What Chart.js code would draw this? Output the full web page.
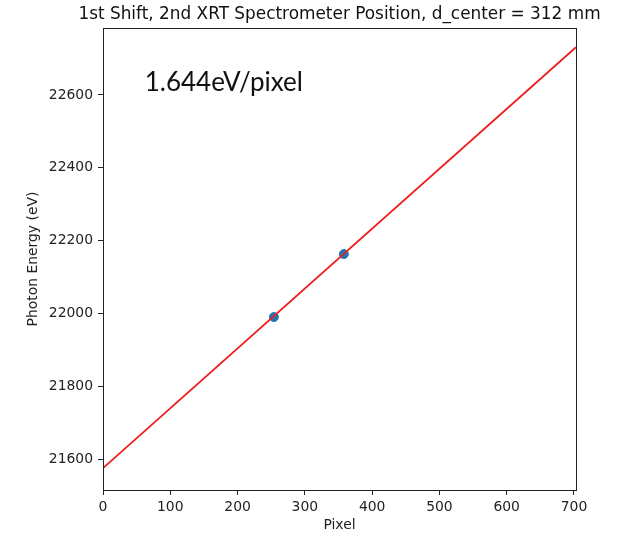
<!DOCTYPE html>
<html>
<head>
<meta charset="utf-8">
<script src="https://cdn.jsdelivr.net/npm/chart.js@4.4.1/dist/chart.umd.min.js"></script>
<style>
  html, body { margin: 0; padding: 0; background: #fff; }
  #wrap { width: 623px; height: 537px; }
</style>
</head>
<body>
<div id="wrap"><canvas id="myChart" width="623" height="537"></canvas></div>
<script>
// measured points (pixel, photon energy)
const pointX = [254, 358];
const pointY = [21990, 22163];

// linear fit endpoints across the axis range
const fitX = [0, 703];
const fitY = [21575, 22731];

// axis limits and ticks
const xLimits = [0, 703];
const yLimits = [21515, 22784];
const xTicks = [0, 100, 200, 300, 400, 500, 600, 700];
const yTicks = [21600, 21800, 22000, 22200, 22400, 22600];

const titleText = "1st Shift, 2nd XRT Spectrometer Position, d_center = 312 mm";
const noteText = "1.644eV/pixel";

const font = "'DejaVu Sans', sans-serif";

// title over the plot, box around it and the text note
const boxPlugin = {
  id: "boxPlugin",
  afterDraw(chart) {
    const { ctx, chartArea, scales } = chart;
    ctx.save();
    ctx.strokeStyle = "#222";
    ctx.lineWidth = 1;
    ctx.strokeRect(chartArea.left + 0.5, chartArea.top + 0.5,
      chartArea.right - chartArea.left, chartArea.bottom - chartArea.top);

    ctx.fillStyle = "#111";
    ctx.font = "16.9px " + font;
    ctx.textAlign = "center";
    ctx.textBaseline = "middle";
    ctx.fillText(titleText, (chartArea.left + chartArea.right) / 2, 15);

    ctx.textAlign = "left";
    ctx.font = "26px Lato, 'Open Sans', sans-serif";
    ctx.fillText(noteText, scales.x.getPixelForValue(62), scales.y.getPixelForValue(22633));
    ctx.restore();
  },
};

const ctx = document.getElementById("myChart");

new Chart(ctx, {
  data: {
    datasets: [
      {
        type: "scatter",
        data: pointX.map((x, i) => ({ x: x, y: pointY[i] })),
        backgroundColor: "#1f77b4",
        borderColor: "#1f77b4",
        pointRadius: 4.5,
        order: 2,
      },
      {
        type: "line",
        data: fitX.map((x, i) => ({ x: x, y: fitY[i] })),
        borderColor: "#ee1c1c",
        borderWidth: 1.8,
        pointRadius: 0,
        fill: false,
        order: 1,
      },
    ],
  },
  options: {
    responsive: false,
    animation: false,
    layout: { padding: { left: 25, right: 47, top: 28, bottom: 0 } },
    plugins: {
      legend: { display: false },
      tooltip: { enabled: false },
      title: { display: false },
    },
    scales: {
      x: {
        type: "linear",
        min: xLimits[0],
        max: xLimits[1],
        afterBuildTicks: (scale) => {
          scale.ticks = xTicks.map((v) => ({ value: v }));
        },
        afterFit: (scale) => {
          scale.height = 47;
        },
        ticks: {
          color: "#222",
          font: { family: font, size: 13.9 },
          padding: 4,
          maxRotation: 0,
          callback: (v) => String(v),
        },
        grid: {
          drawOnChartArea: false,
          drawTicks: true,
          tickLength: 5,
          color: "#222",
        },
        border: { display: true, color: "#222" },
        title: {
          display: true,
          text: "Pixel",
          color: "#222",
          font: { family: font, size: 13.9 },
          padding: { top: 0, bottom: 3 },
        },
      },
      y: {
        type: "linear",
        min: yLimits[0],
        max: yLimits[1],
        afterBuildTicks: (scale) => {
          scale.ticks = yTicks.map((v) => ({ value: v }));
        },
        afterFit: (scale) => {
          scale.width = 78;
        },
        ticks: {
          color: "#222",
          font: { family: font, size: 13.9 },
          padding: 5,
          callback: (v) => String(v),
        },
        grid: {
          drawOnChartArea: false,
          drawTicks: true,
          tickLength: 5,
          color: "#222",
        },
        border: { display: true, color: "#222" },
        title: {
          display: true,
          text: "Photon Energy (eV)",
          color: "#222",
          font: { family: font, size: 13.9 },
          padding: { top: 0, bottom: 0 },
        },
      },
    },
  },
  plugins: [boxPlugin],
});
</script>
</body>
</html>
